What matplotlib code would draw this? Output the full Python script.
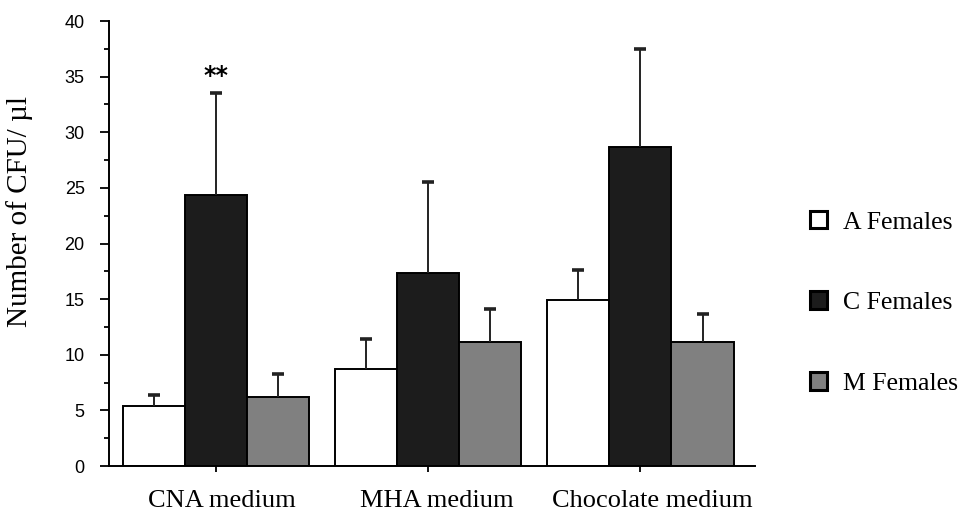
import matplotlib
matplotlib.use("Agg")
import matplotlib.pyplot as plt
from matplotlib.patches import Patch
from matplotlib.ticker import MultipleLocator
from matplotlib.transforms import ScaledTranslation
import numpy as np

categories = ["CNA medium", "MHA medium", "Chocolate medium"]
series_names = ["A Females", "C Females", "M Females"]
a_values = [5.4, 8.7, 14.9]
c_values = [24.35, 17.35, 28.7]
m_values = [6.2, 11.15, 11.15]
a_err = [1.0, 2.7, 2.75]
c_err = [9.15, 8.2, 8.8]
m_err = [2.1, 2.95, 2.5]
colors = ["#ffffff", "#1c1c1c", "#808080"]
y_ticks = [0, 5, 10, 15, 20, 25, 30, 35, 40]
annotation = "**"

fig = plt.figure(figsize=(9.67, 5.13), dpi=100)
ax = fig.add_axes([0.1127, 0.0916, 0.6681, 0.8674])

x = np.arange(len(categories))
w = 0.2925
vals = [a_values, c_values, m_values]
errs = [a_err, c_err, m_err]
for i, (v, e, col) in enumerate(zip(vals, errs, colors)):
    xpos = x + (i - 1) * w
    v = np.array(v)
    e = np.array(e)
    ax.bar(xpos, v, width=w, color=col, edgecolor="black", linewidth=1.4, zorder=2)
    ax.vlines(xpos, v, v + e, color="#222222", linewidth=1.4, zorder=3)
    ax.plot(xpos, v + e, ls="none", marker="_", markersize=9, markeredgewidth=2.6,
            color="#222222", zorder=3)

ax.text(x[0], c_values[0] + c_err[0] + 1.6, annotation, ha="center", va="center",
        fontsize=17, fontweight="bold", family="DejaVu Sans")

ax.set_xlim(-0.505, 2.54)
ax.set_ylim(0, 40)
ax.set_yticks(y_ticks)
ax.yaxis.set_minor_locator(MultipleLocator(2.5))
ax.set_xticks(x)
ax.set_xticklabels([""] * len(categories))
for xi, lab, dx in zip(x, categories, [6, 9, 12]):
    tr = ax.get_xaxis_transform() + ScaledTranslation(dx / 100, -24 / 100, fig.dpi_scale_trans)
    ax.text(xi, 0, lab, transform=tr, ha="center", va="top",
            family="Liberation Serif", fontsize=19)
ax.tick_params(axis="x", length=4, width=1.3)
ax.tick_params(axis="y", which="major", length=6.5, width=1.3, labelsize=13, pad=11)
ax.tick_params(axis="y", which="minor", length=3.6, width=1.3)
for lab in ax.get_yticklabels():
    lab.set_family("Liberation Sans")
ax.spines["top"].set_visible(False)
ax.spines["right"].set_visible(False)
ax.spines["left"].set_linewidth(1.4)
ax.spines["bottom"].set_linewidth(1.4)
ax.set_ylabel("Number of CFU/ µl", family="Liberation Serif", fontsize=21)
ax.yaxis.set_label_coords(-0.118, 0.571)

handles = [Patch(facecolor=c, edgecolor="black", linewidth=2.2) for c in colors]
fig.legend(handles, series_names, loc="upper left", bbox_to_anchor=(0.8136, 0.634),
           frameon=False, prop={"family": "Liberation Serif", "size": 18.5},
           handlelength=0.67, handleheight=0.67, labelspacing=2.25, handletextpad=0.6,
           borderpad=0.4)

fig.savefig("out.png", dpi=100)
